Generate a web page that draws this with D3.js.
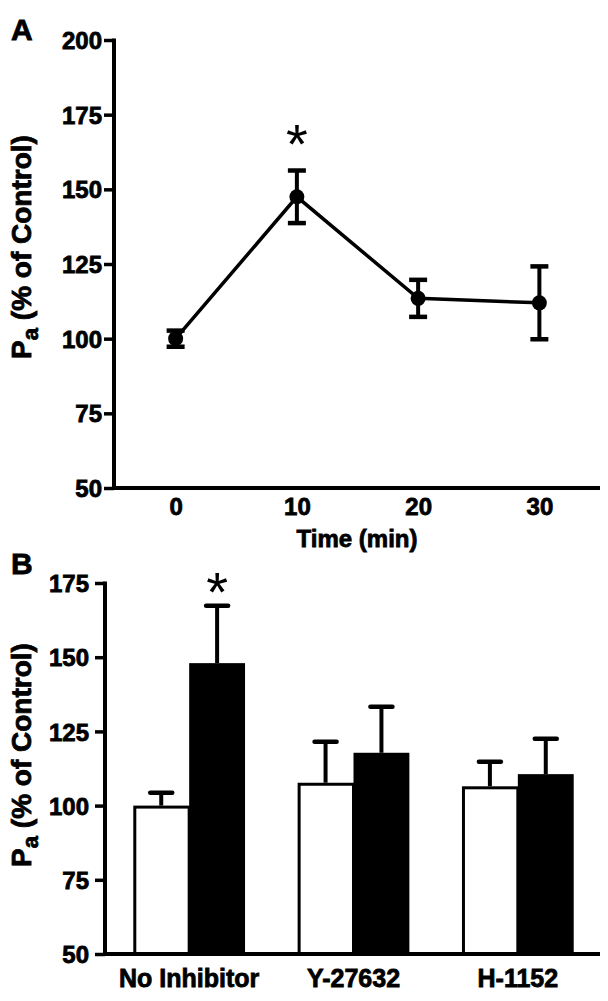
<!DOCTYPE html>
<html>
<head>
<meta charset="utf-8">
<script src="https://cdn.jsdelivr.net/npm/d3@7"></script>
<style>
  html, body { margin: 0; padding: 0; background: #fff; }
  svg text { font-family: "Liberation Sans", Arial, Helvetica, sans-serif; font-weight: bold; fill: #000; stroke: #000; stroke-width: 0.8px; }
  svg text.ast { stroke-width: 0; font-weight: normal; }
</style>
</head>
<body>
<svg id="chart" width="608" height="1001"></svg>
<script>
// ---------- Panel A data ----------
const timeMin = [0, 10, 20, 30];
const paMean  = [100, 147.5, 113.5, 112];
const paErr   = [2.7, 8.8, 6.2, 12.2];
const aYTicks = [50, 75, 100, 125, 150, 175, 200];
const aXTicks = [0, 10, 20, 30];

// ---------- Panel B data ----------
const groups     = ["No Inhibitor", "Y-27632", "H-1152"];
const beforeVal  = [100, 107.7, 106.5];
const beforeErr  = [4.3, 13.8, 8.3];
const afterVal   = [148, 117.8, 110.6];
const afterErr   = [19.3, 15.5, 11.9];
const bYTicks    = [50, 75, 100, 125, 150, 175];
const seriesKeys = ["before", "after"];

const svg = d3.select("#chart");
const AX = 4;     // axis stroke width

// ================= Panel A =================
const ax = d3.scaleLinear().domain([-5, 35]).range([115, 600]);
const ay = d3.scaleLinear().domain([50, 200]).range([488, 40]);
const aYAxisX = 114;

const gA = svg.append("g");

// y axis
const yAxA = gA.append("g").attr("transform", `translate(${aYAxisX},0)`)
  .call(d3.axisLeft(ay).tickValues(aYTicks).tickSize(10).tickPadding(2).tickSizeOuter(0));
yAxA.select(".domain").remove();
yAxA.selectAll(".tick line").attr("stroke", "#000").attr("stroke-width", 3.5);
yAxA.selectAll(".tick text").style("font-size", "24px").attr("dy", "0.36em");
gA.append("line").attr("x1", aYAxisX).attr("x2", aYAxisX)
  .attr("y1", ay(200) - 1.5).attr("y2", ay(50) + AX / 2)
  .attr("stroke", "#000").attr("stroke-width", AX);

// x axis
const xAxA = gA.append("g").attr("transform", `translate(0,${ay(50)})`)
  .call(d3.axisBottom(ax).tickValues(aXTicks).tickSize(0).tickPadding(10));
xAxA.select(".domain").remove();
xAxA.selectAll(".tick text").style("font-size", "24px");
gA.append("line").attr("x1", aYAxisX - AX / 2).attr("x2", ax.range()[1])
  .attr("y1", ay(50)).attr("y2", ay(50))
  .attr("stroke", "#000").attr("stroke-width", AX);

gA.append("text").attr("x", (aYAxisX + ax.range()[1]) / 2).attr("y", 547)
  .attr("text-anchor", "middle").style("font-size", "24px").text("Time (min)");

// y title
function yTitle(g, cx, cy) {
  const t = g.append("text")
    .attr("transform", `translate(${cx},${cy}) rotate(-90)`)
    .attr("text-anchor", "middle").style("font-size", "28px");
  t.append("tspan").text("P");
  t.append("tspan").attr("dy", 7).style("font-size", "22px").text("a");
  t.append("tspan").attr("dy", -7).text(" (% of Control)");
}
yTitle(gA, 31, 247);

// line
const pts = timeMin.map((t, i) => ({ t, m: paMean[i], e: paErr[i] }));
gA.append("path").datum(pts)
  .attr("fill", "none").attr("stroke", "#000").attr("stroke-width", 3.5)
  .attr("d", d3.line().x(d => ax(d.t)).y(d => ay(d.m)));

// error bars
const capW = 9;
const eb = gA.selectAll(".eb").data(pts).enter().append("g");
eb.append("line").attr("x1", d => ax(d.t)).attr("x2", d => ax(d.t))
  .attr("y1", d => ay(d.m + d.e)).attr("y2", d => ay(d.m - d.e))
  .attr("stroke", "#000").attr("stroke-width", 4);
eb.append("line").attr("x1", d => ax(d.t) - capW).attr("x2", d => ax(d.t) + capW)
  .attr("y1", d => ay(d.m + d.e)).attr("y2", d => ay(d.m + d.e))
  .attr("stroke", "#000").attr("stroke-width", 4.5);
eb.append("line").attr("x1", d => ax(d.t) - capW).attr("x2", d => ax(d.t) + capW)
  .attr("y1", d => ay(d.m - d.e)).attr("y2", d => ay(d.m - d.e))
  .attr("stroke", "#000").attr("stroke-width", 4.5);
gA.selectAll(".pt").data(pts).enter().append("circle")
  .attr("cx", d => ax(d.t)).attr("cy", d => ay(d.m)).attr("r", 7.5).attr("fill", "#000");

// asterisk
gA.append("text").attr("class", "ast").attr("x", ax(10)).attr("y", 163).attr("text-anchor", "middle")
  .style("font-size", "56px").text("*");

// panel letter
svg.append("text").attr("x", 11).attr("y", 40).style("font-size", "30px").text("A");

// ================= Panel B =================
const bx0 = d3.scaleBand().domain(groups).range([107, 600]).paddingInner(0.32).paddingOuter(0.16);
const bx1 = d3.scaleBand().domain(seriesKeys).range([0, bx0.bandwidth()]).padding(0);
const by = d3.scaleLinear().domain([50, 175]).range([954, 583]);
const bYAxisX = 105;

const gB = svg.append("g");

const rows = groups.map((g, i) => ({
  g,
  bars: [
    { key: "before", v: beforeVal[i], e: beforeErr[i] },
    { key: "after",  v: afterVal[i],  e: afterErr[i] }
  ]
}));

// bars
const grp = gB.selectAll(".grp").data(rows).enter().append("g")
  .attr("transform", d => `translate(${bx0(d.g)},0)`);
const bar = grp.selectAll(".bar").data(d => d.bars).enter().append("g");
// error bars (upward only)
bar.append("line")
  .attr("x1", d => bx1(d.key) + bx1.bandwidth() / 2).attr("x2", d => bx1(d.key) + bx1.bandwidth() / 2)
  .attr("y1", d => by(d.v)).attr("y2", d => by(d.v + d.e))
  .attr("stroke", "#000").attr("stroke-width", 4);
bar.append("line")
  .attr("x1", d => bx1(d.key) + bx1.bandwidth() / 2 - 11).attr("x2", d => bx1(d.key) + bx1.bandwidth() / 2 + 11)
  .attr("y1", d => by(d.v + d.e)).attr("y2", d => by(d.v + d.e))
  .attr("stroke", "#000").attr("stroke-width", 4.5).attr("stroke-linecap", "round");
bar.append("rect")
  .attr("x", d => bx1(d.key) + (d.key === "before" ? 1.5 : 0))
  .attr("y", d => by(d.v) + (d.key === "before" ? 1.5 : 0))
  .attr("width", d => bx1.bandwidth() - (d.key === "before" ? 1.5 : 0))
  .attr("height", d => by(50) - by(d.v) - (d.key === "before" ? 1.5 : 0))
  .attr("fill", d => d.key === "before" ? "#fff" : "#000")
  .attr("stroke", "#000").attr("stroke-width", d => d.key === "before" ? 3 : 0);

// y axis
const yAxB = gB.append("g").attr("transform", `translate(${bYAxisX},0)`)
  .call(d3.axisLeft(by).tickValues(bYTicks).tickSize(10).tickPadding(6).tickSizeOuter(0));
yAxB.select(".domain").remove();
yAxB.selectAll(".tick line").attr("stroke", "#000").attr("stroke-width", 3.5);
yAxB.selectAll(".tick text").style("font-size", "24px").attr("dy", "0.36em");
gB.append("line").attr("x1", bYAxisX).attr("x2", bYAxisX)
  .attr("y1", by(175) - 1.5).attr("y2", by(50) + AX / 2)
  .attr("stroke", "#000").attr("stroke-width", AX);

// x axis
const xAxB = gB.append("g").attr("transform", `translate(0,${by(50)})`)
  .call(d3.axisBottom(bx0).tickSize(0).tickPadding(15));
xAxB.select(".domain").remove();
xAxB.selectAll(".tick text").style("font-size", "25px");
gB.append("line").attr("x1", bYAxisX - AX / 2).attr("x2", 600)
  .attr("y1", by(50)).attr("y2", by(50))
  .attr("stroke", "#000").attr("stroke-width", AX);

yTitle(gB, 31, 755);

// asterisk above No Inhibitor black bar
gB.append("text").attr("class", "ast")
  .attr("x", bx0(groups[0]) + bx1("after") + bx1.bandwidth() / 2)
  .attr("y", 611).attr("text-anchor", "middle")
  .style("font-size", "56px").text("*");

svg.append("text").attr("x", 11).attr("y", 574).style("font-size", "30px").text("B");
</script>
</body>
</html>
